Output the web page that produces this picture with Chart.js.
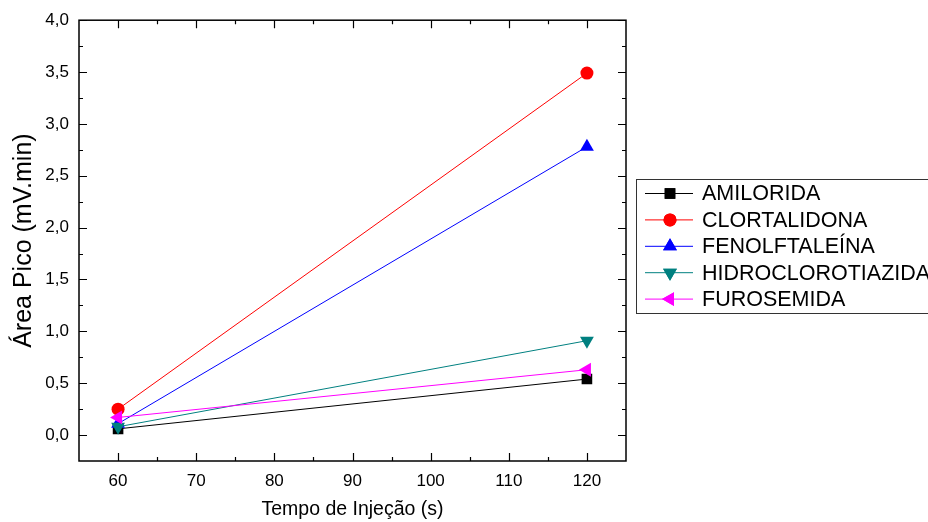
<!DOCTYPE html>
<html>
<head>
<meta charset="utf-8">
<script src="https://cdn.jsdelivr.net/npm/chart.js@4.4.1/dist/chart.umd.min.js"></script>
<style>
  html, body { margin: 0; padding: 0; background: #fff; }
  #wrap { width: 928px; height: 522px; }
</style>
</head>
<body>
<div id="wrap"><canvas id="grafica" width="928" height="522"></canvas></div>
<script>
// datos
const tempos = [60, 120];
const amilorida = [0.06, 0.54];
const clortalidona = [0.25, 3.49];
const fenolftaleina = [0.11, 2.78];
const hidroclorotiazida = [0.08, 0.91];
const furosemida = [0.17, 0.63];

const xTicks = [60, 70, 80, 90, 100, 110, 120];
const xMinor = [65, 75, 85, 95, 105, 115];
const yTicks = [0, 0.5, 1, 1.5, 2, 2.5, 3, 3.5, 4];
const yMinor = [0.25, 0.75, 1.25, 1.75, 2.25, 2.75, 3.25, 3.75];

const series = [
    { nome: 'AMILORIDA', valores: amilorida, cor: '#000000', estilo: 'rect', raio: 7.5, rot: 0 },
    { nome: 'CLORTALIDONA', valores: clortalidona, cor: '#ff0000', estilo: 'circle', raio: 6.5, rot: 0 },
    { nome: 'FENOLFTALEÍNA', valores: fenolftaleina, cor: '#0000ff', estilo: 'triangle', raio: 8, rot: 0 },
    { nome: 'HIDROCLOROTIAZIDA', valores: hidroclorotiazida, cor: '#008080', estilo: 'triangle', raio: 8, rot: 180 },
    { nome: 'FUROSEMIDA', valores: furosemida, cor: '#ff00ff', estilo: 'triangle', raio: 8, rot: -90 }
];

const fonte = "'Liberation Sans', Arial, sans-serif";

// ticks hacia dentro en los cuatro lados + leyenda con borde
const marcoPlugin = {
    id: 'marco',
    afterDraw(chart) {
        const ctx = chart.ctx;
        const a = chart.chartArea;
        const xs = chart.scales.x;
        const ys = chart.scales.y;
        ctx.save();
        ctx.strokeStyle = '#000';
        ctx.lineWidth = 1.5;
        ctx.strokeRect(a.left, a.top, a.right - a.left, a.bottom - a.top);
        ctx.lineWidth = 1.2;
        ctx.beginPath();
        const tx = (v, len) => {
            const p = Math.round(xs.getPixelForValue(v)) + 0.5;
            ctx.moveTo(p, a.bottom); ctx.lineTo(p, a.bottom - len);
            ctx.moveTo(p, a.top); ctx.lineTo(p, a.top + len);
        };
        const ty = (v, len) => {
            const p = Math.round(ys.getPixelForValue(v)) + 0.5;
            ctx.moveTo(a.left, p); ctx.lineTo(a.left + len, p);
            ctx.moveTo(a.right, p); ctx.lineTo(a.right - len, p);
        };
        xTicks.forEach(v => tx(v, 8));
        xMinor.forEach(v => tx(v, 4));
        yTicks.forEach(v => ty(v, 8));
        yMinor.forEach(v => ty(v, 4));
        ctx.stroke();

        // leyenda
        const lx = 636, ly = 179;
        ctx.lineWidth = 1;
        ctx.strokeStyle = '#333';
        ctx.strokeRect(lx + 0.5, ly + 0.5, 320, 134);
        ctx.font = '21.5px ' + fonte;
        ctx.textBaseline = 'middle';
        ctx.textAlign = 'left';
        series.forEach((s, i) => {
            const y = ly + 14.5 + i * 26.4;
            ctx.strokeStyle = s.cor;
            ctx.lineWidth = 1;
            ctx.beginPath();
            ctx.moveTo(lx + 9, y); ctx.lineTo(lx + 57, y);
            ctx.stroke();
            ctx.fillStyle = s.cor;
            Chart.helpers.drawPoint(ctx, {
                pointStyle: s.estilo, radius: s.raio, rotation: s.rot, borderWidth: 0
            }, lx + 34, y);
            ctx.fill();
            ctx.fillStyle = '#000';
            ctx.fillText(s.nome, lx + 66, y + 1);
        });
        ctx.restore();
    }
};

const ctx = document.getElementById('grafica').getContext('2d');

const chartArea = new Chart(ctx, {
    type: 'line',
    data: {
        datasets: series.map((s, i) => ({
            label: s.nome,
            data: tempos.map((t, k) => ({ x: t, y: s.valores[k] })),
            borderColor: s.cor,
            backgroundColor: s.cor,
            borderWidth: 1,
            pointStyle: s.estilo,
            pointRadius: s.raio,
            pointRotation: s.rot,
            pointBorderWidth: 0,
            pointHoverRadius: s.raio,
            tension: 0,
            fill: false,
            order: series.length - i
        }))
    },
    options: {
        responsive: false,
        animation: false,
        layout: {
            padding: { left: 0, top: 19, right: 302, bottom: 0 }
        },
        plugins: {
            legend: { display: false },
            tooltip: { enabled: false }
        },
        scales: {
            x: {
                type: 'linear',
                min: 55,
                max: 125,
                grid: { display: false, drawTicks: false },
                border: { display: false },
                afterBuildTicks: scale => { scale.ticks = xTicks.map(v => ({ value: v })); },
                afterFit: scale => { scale.height = 61; },
                ticks: {
                    color: '#000',
                    padding: 10,
                    maxRotation: 0,
                    font: { family: fonte, size: 17 }
                },
                title: {
                    display: true,
                    text: 'Tempo de Injeção (s)',
                    color: '#000',
                    padding: { top: 0, bottom: 1 },
                    font: { family: fonte, size: 19.5 }
                }
            },
            y: {
                type: 'linear',
                min: -0.25,
                max: 4,
                grid: { display: false, drawTicks: false },
                border: { display: false },
                afterBuildTicks: scale => { scale.ticks = yTicks.map(v => ({ value: v })); },
                afterFit: scale => { scale.width = 79; },
                ticks: {
                    color: '#000',
                    padding: 10,
                    font: { family: fonte, size: 17 },
                    callback: function(value) {
                        return value.toFixed(1).replace('.', ',');
                    }
                },
                title: {
                    display: true,
                    text: 'Área Pico (mV.min)',
                    color: '#000',
                    padding: { top: 9, bottom: 0 },
                    font: { family: fonte, size: 25 }
                }
            }
        }
    },
    plugins: [marcoPlugin]
});
</script>
</body>
</html>
